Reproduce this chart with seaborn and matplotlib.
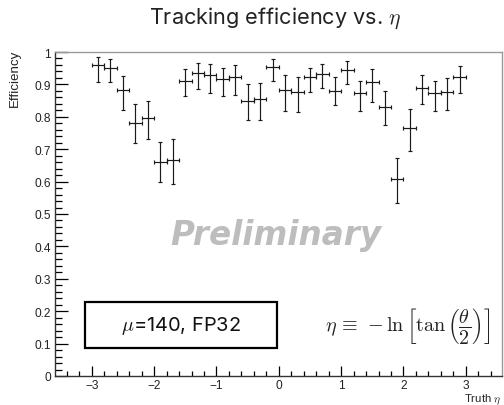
import matplotlib
matplotlib.use("Agg")
import matplotlib.pyplot as plt
from matplotlib.ticker import MultipleLocator, FuncFormatter
from matplotlib.patches import Rectangle
import seaborn as sns
import pandas as pd

# ---- data ----
eta_centers = [-2.9, -2.7, -2.5, -2.3, -2.1, -1.9, -1.7, -1.5, -1.3, -1.1,
               -0.9, -0.7, -0.5, -0.3, -0.1, 0.1, 0.3, 0.5, 0.7, 0.9,
               1.1, 1.3, 1.5, 1.7, 1.9, 2.1, 2.3, 2.5, 2.7, 2.9]
bin_half_width = 0.1
efficiency = [0.961, 0.950, 0.883, 0.781, 0.796, 0.661, 0.666, 0.912, 0.936, 0.928,
              0.917, 0.922, 0.850, 0.855, 0.953, 0.884, 0.876, 0.922, 0.933, 0.881,
              0.943, 0.874, 0.907, 0.831, 0.609, 0.764, 0.888, 0.874, 0.876, 0.922]
eff_upper = [0.984, 0.979, 0.925, 0.838, 0.850, 0.721, 0.731, 0.946, 0.966, 0.964,
             0.950, 0.961, 0.900, 0.904, 0.979, 0.930, 0.922, 0.950, 0.964, 0.922,
             0.972, 0.912, 0.946, 0.879, 0.674, 0.824, 0.928, 0.912, 0.919, 0.957]
eff_lower = [0.907, 0.907, 0.822, 0.719, 0.731, 0.599, 0.594, 0.863, 0.886, 0.873,
             0.863, 0.868, 0.791, 0.791, 0.910, 0.819, 0.816, 0.876, 0.888, 0.835,
             0.901, 0.819, 0.847, 0.775, 0.533, 0.693, 0.838, 0.819, 0.821, 0.874]

title_text = r"Tracking efficiency vs. $\eta$"
xlabel_text = r"Truth $\eta$"
ylabel_text = "Efficiency"
legend_text = r"$\mu$=140, FP32"
formula_text = r"$\eta\,\equiv\,-\ln\left[\tan\left(\dfrac{\theta}{2}\right)\right]$"
watermark_text = "Preliminary"

df = pd.DataFrame({"eta": eta_centers, "eff": efficiency,
                   "lo": eff_lower, "hi": eff_upper})
df["err_lo"] = df["eff"] - df["lo"]
df["err_hi"] = df["hi"] - df["eff"]

sns.set_theme(style="ticks")
plt.rcParams["font.family"] = ["Liberation Sans", "DejaVu Sans"]
plt.rcParams["mathtext.fontset"] = "cm"

W, H = 504, 406
fig = plt.figure(figsize=(W / 100, H / 100), dpi=100)
ax = fig.add_axes([55 / W, 1 - 377 / H, (502 - 55) / W, (377 - 53) / H])

ax.errorbar(df["eta"], df["eff"], yerr=[df["err_lo"], df["err_hi"]],
            xerr=bin_half_width, fmt="none", ecolor="#1a1a1a",
            elinewidth=0.85, capsize=1.6, capthick=0.85)
sns.scatterplot(data=df, x="eta", y="eff", ax=ax, s=1.5, color="black",
                linewidth=0, legend=False)

ax.set_xlim(-3.59, 3.58)
ax.set_ylim(0, 1)
ax.xaxis.set_major_locator(MultipleLocator(1))
ax.xaxis.set_minor_locator(MultipleLocator(0.2))
ax.yaxis.set_major_locator(MultipleLocator(0.1))
ax.yaxis.set_minor_locator(MultipleLocator(0.02))
ax.yaxis.set_major_formatter(FuncFormatter(lambda v, p: f"{v:g}"))
ax.xaxis.set_major_formatter(FuncFormatter(lambda v, p: f"{v:g}".replace("-", "\u2212")))

ax.tick_params(axis="both", which="both", direction="in", colors="black",
               labelsize=8.6, width=0.9, top=False, right=False)
ax.tick_params(axis="x", which="major", length=7.2, pad=2.5)
ax.tick_params(axis="x", which="minor", length=3.6)
ax.tick_params(axis="y", which="major", length=9.4, pad=3)
ax.tick_params(axis="y", which="minor", length=4.8)
for lab in ax.get_xticklabels() + ax.get_yticklabels():
    lab.set_color("#222222")

for s in ["left", "bottom"]:
    ax.spines[s].set_color("#333333")
    ax.spines[s].set_linewidth(1.0)
for s in ["top", "right"]:
    ax.spines[s].set_color("#999999")
    ax.spines[s].set_linewidth(1.0)

ax.set_xlabel("")
ax.set_ylabel("")
fig.text(501 / W, 1 - 402.5 / H, xlabel_text, ha="right", va="baseline",
         fontsize=8.2, color="#222222")
fig.text(15 / W, 1 - 50 / H, ylabel_text, ha="center", va="top",
         rotation=90, fontsize=9.6, color="#222222")

fig.text(275 / W, 1 - 18 / H, title_text, ha="center", va="center",
         fontsize=15.6, family=["Inter", "DejaVu Sans"], color="#222222")

# legend box
ax.add_patch(Rectangle((-3.11, 0.086), 3.08, 0.142, fill=False,
                       edgecolor="black", linewidth=1.6, zorder=3))
ax.text(-1.57, 0.157, legend_text, ha="center", va="center", fontsize=14.4,
        family=["Inter", "DejaVu Sans"], color="#111111")

# formula
ax.text(2.06, 0.158, formula_text, ha="center", va="center",
        fontsize=14.5, color="#222222")

# watermark
ax.text(-0.05, 0.438, watermark_text, ha="center", va="center", fontsize=23.5,
        family=["DejaVu Sans"], fontweight="bold", fontstyle="italic",
        color="#bdbdbd")

fig.savefig("out.png", dpi=100)
